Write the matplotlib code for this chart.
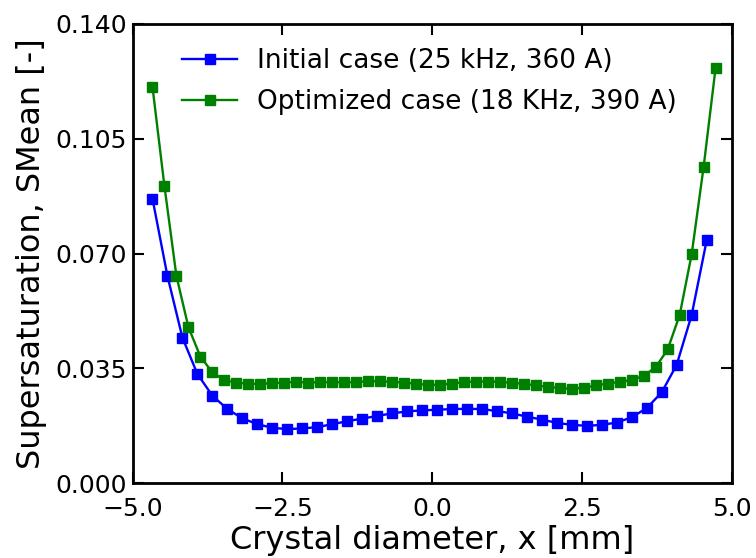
import matplotlib
matplotlib.use("Agg")
import matplotlib.pyplot as plt
from matplotlib.ticker import FuncFormatter

# Data
x_initial = [-4.67, -4.42, -4.17, -3.92, -3.67, -3.42, -3.17, -2.92, -2.67, -2.42,
             -2.17, -1.92, -1.67, -1.42, -1.17, -0.92, -0.67, -0.42, -0.17, 0.08,
             0.33, 0.58, 0.83, 1.08, 1.33, 1.58, 1.83, 2.08, 2.33, 2.58,
             2.83, 3.08, 3.33, 3.58, 3.83, 4.08, 4.33, 4.58]
y_initial = [0.0868, 0.0632, 0.0444, 0.0333, 0.0267, 0.0226, 0.0198, 0.0180, 0.0169, 0.0165,
             0.0167, 0.0171, 0.0180, 0.0189, 0.0197, 0.0205, 0.0213, 0.0219, 0.0222, 0.0224,
             0.0226, 0.0227, 0.0226, 0.0220, 0.0213, 0.0203, 0.0194, 0.0184, 0.0178, 0.0175,
             0.0178, 0.0185, 0.0201, 0.0229, 0.0277, 0.0361, 0.0513, 0.0740]

x_optimized = [-4.67, -4.47, -4.27, -4.07, -3.87, -3.67, -3.47, -3.27, -3.07, -2.87,
               -2.67, -2.47, -2.27, -2.07, -1.87, -1.67, -1.47, -1.27, -1.07, -0.87,
               -0.67, -0.47, -0.27, -0.07, 0.13, 0.33, 0.53, 0.73, 0.93, 1.13,
               1.33, 1.53, 1.73, 1.93, 2.13, 2.33, 2.53, 2.73, 2.93, 3.13,
               3.33, 3.53, 3.73, 3.93, 4.13, 4.33, 4.53, 4.73]
y_optimized = [0.1209, 0.0906, 0.0632, 0.0476, 0.0386, 0.0338, 0.0314, 0.0307, 0.0303, 0.0303,
               0.0305, 0.0307, 0.0309, 0.0307, 0.0308, 0.0308, 0.0308, 0.0308, 0.0311, 0.0311,
               0.0309, 0.0307, 0.0303, 0.0300, 0.0300, 0.0304, 0.0308, 0.0310, 0.0310, 0.0309,
               0.0306, 0.0303, 0.0298, 0.0294, 0.0290, 0.0288, 0.0291, 0.0298, 0.0304, 0.0309,
               0.0315, 0.0327, 0.0354, 0.0408, 0.0513, 0.0698, 0.0965, 0.1267]

label_initial = "Initial case (25 kHz, 360 A)"
label_optimized = "Optimized case (18 KHz, 390 A)"
x_ticks = [-5.0, -2.5, 0.0, 2.5, 5.0]
y_ticks = [0.000, 0.035, 0.070, 0.105, 0.140]

fig = plt.figure(figsize=(7.56, 5.58), dpi=100)
ax = fig.add_axes([0.1755, 0.134, 0.7925, 0.823])

ax.plot(x_initial, y_initial, color="blue", marker="s", markersize=6.5, linewidth=1.7,
        label=label_initial)
ax.plot(x_optimized, y_optimized, color="green", marker="s", markersize=6.5, linewidth=1.7,
        label=label_optimized)

ax.set_xlim(-5, 5)
ax.set_ylim(0, 0.14)
ax.set_xticks(x_ticks)
ax.set_yticks(y_ticks)
ax.xaxis.set_major_formatter(FuncFormatter(lambda v, p: f"{v:.1f}".replace("-", "\u2212")))
ax.yaxis.set_major_formatter(FuncFormatter(lambda v, p: f"{v:.3f}"))
ax.tick_params(direction="in", length=8, width=1.5, labelsize=18,
               top=True, right=True)
ax.tick_params(axis="x", pad=10)
ax.tick_params(axis="y", pad=4)
for s in ax.spines.values():
    s.set_linewidth(2)

ax.set_xlabel("Crystal diameter, x [mm]", fontsize=23, labelpad=3)
ax.set_ylabel("Supersaturation, SMean [-]", fontsize=23, labelpad=6)

ax.legend(loc="upper left", bbox_to_anchor=(0.082, 0.947), frameon=False, fontsize=19,
          handlelength=2.1, borderaxespad=0.0, borderpad=0.0, labelspacing=0.55,
          handletextpad=0.75)

fig.savefig("out.png", dpi=100)
